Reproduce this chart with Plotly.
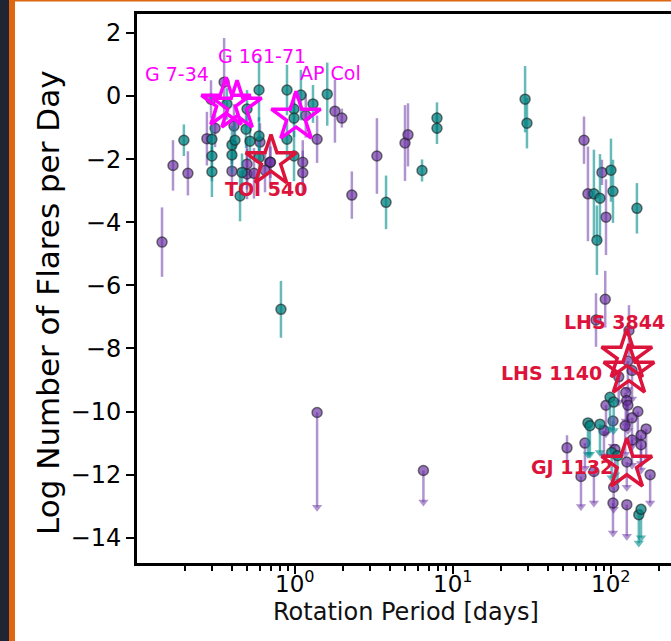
import numpy as np
import plotly.graph_objects as go

# ---------------- data ----------------
# purple detections
P_pur = [0.144, 0.169, 0.210, 0.277, 0.294, 0.312, 0.356, 0.399, 0.411, 0.497, 0.497, 0.550,
         0.600, 0.695, 0.70, 0.646, 1.12, 1.12, 1.17, 1.38, 1.79, 1.98, 2.29, 3.30, 4.97, 5.19,
         67.5, 71.5, 87.7, 93.0, 92.0, 80.4, 130, 52.7]
y_pur = [-4.63, -2.20, -2.45, -1.35, -0.10, -1.02, 0.44, -2.38, -0.95, -2.16, -2.47, -2.45,
         -1.46, -2.10, -2.10, -2.35, -2.10, -2.43, -0.62, -1.37, -0.48, -0.70, -3.14, -1.90, -1.49, -1.23,
         -1.40, -3.10, -2.42, -3.84, -6.44, -7.10, -7.43, -11.15]
e_pur = [1.1, 0.8, 0.7, 0.85, 0.6, 0.6, 1.4, 0.6, 0.7, 0.8, 0.8, 0.8,
         0.6, 0.8, 0.5, 0.7, 0.7, 0.7, 0.7, 0.75, 1.0, 0.3, 0.75, 1.2, 1.2, 1.0,
         0.75, 1.5, 0.4, 1.2, 0.9, 0.85, 0.8, 0.4]

# teal detections
P_teal = [0.198, 0.298, 0.298, 0.298, 0.371, 0.399, 0.399, 0.417, 0.462, 0.449, 0.497, 0.490,
          0.519, 0.592, 0.592, 0.592, 0.890, 0.890, 0.986, 0.986, 0.986, 1.09, 1.30, 1.60, 0.815,
          3.77, 6.37, 7.92, 7.92, 28.6, 29.4, 78.0, 85.2, 100, 103, 81.5, 146]
y_teal = [-1.40, -1.37, -1.90, -2.40, -0.25, -1.55, -1.87, -1.40, -2.42, -3.17, -0.41, -1.05,
          -1.43, 0.19, -1.27, -1.95, 0.19, -1.37, -0.41, -0.70, -1.90, 0.03, -0.25, 0.06, -6.76,
          -3.37, -2.36, -0.70, -1.02, -0.10, -0.86, -3.10, -3.24, -2.35, -3.02, -4.57, -3.56]
e_teal = [0.5, 0.6, 0.8, 0.8, 0.5, 0.6, 0.6, 0.6, 0.6, 0.8, 0.6, 0.6,
          0.6, 1.0, 0.6, 0.7, 0.8, 0.6, 0.5, 0.6, 0.8, 0.8, 0.6, 1.0, 0.9,
          0.85, 0.35, 0.5, 0.5, 1.05, 0.8, 1.4, 1.4, 1.0, 1.0, 1.1, 0.8]

# purple upper limits
P_pur_ul = [1.38, 6.5, 64.6, 78.0, 103, 126, 177, 93.0, 124, 126, 128, 148, 136, 103, 123, 90.3,
            167, 155, 155, 136, 106, 126, 104, 128, 112, 136, 68.4]
y_pur_ul = [-10.03, -11.87, -12.06, -11.90, -12.90, -12.95, -12.00, -9.80, -9.40, -9.65, -9.80,
            -10.00, -10.20, -10.30, -10.45, -10.60, -10.55, -10.75, -11.05, -10.90, -11.20, -11.60,
            -12.40, -8.40, -8.90, -8.70, -11.00]
len_pur_ul = [3.0, 1.0, 0.95, 1.0, 0.95, 1.0, 0.9, 0.9, 0.9, 0.8, 0.8, 0.9, 0.9, 0.8, 0.9, 0.8,
              0.9, 0.9, 0.8, 0.8, 0.8, 0.8, 0.7, 0.9, 0.8, 0.9, 0.8]

# teal upper limits
P_teal_ul = [98.6, 104, 71.5, 73.6, 85.2, 101, 110, 150, 155]
y_teal_ul = [-9.55, -9.70, -10.36, -10.45, -10.40, -11.30, -11.40, -13.27, -13.10]
len_teal_ul = [1.0, 0.9, 1.0, 0.9, 0.9, 0.8, 0.8, 0.9, 0.9]

# highlighted stars
mag_names = ["G 7-34", "G 161-71", "AP Col"]
mag_P = [0.366, 0.43, 1.015]
mag_y = [-0.23, -0.32, -0.67]
red_names = ["TOI 540", "LHS 3844", "LHS 1140", "GJ 1132"]
red_P = [0.705, 126, 130, 126]
red_y = [-2.06, -8.22, -8.70, -11.68]

x_ticks = [1, 10, 100]
x_ticktext = ["10<sup>0</sup>", "10<sup>1</sup>", "10<sup>2</sup>"]
y_ticks = [-14, -12, -10, -8, -6, -4, -2, 0, 2]
y_ticktext = ["\u221214", "\u221212", "\u221210", "\u22128", "\u22126", "\u22124", "\u22122", "0", "2"]

# ---------------- style ----------------
W, H = 671, 641
ML, MR, MT, MB = 137, 0, 14, 78
FONT = "DejaVu Sans"
PUR_FILL = "rgba(100,40,160,0.65)"
PUR_BAR = "rgba(110,60,170,0.55)"
TEAL_FILL = "rgba(0,128,128,0.75)"
TEAL_BAR = "rgba(0,140,140,0.6)"
EDGE = "rgba(30,30,30,0.6)"
MAG = "#ff00ff"
RED = "#dc143c"


def px_x(px):
    return (px - ML) / (W - ML - MR)


def px_y(py):
    return (H - MB - py) / (H - MT - MB)


fig = go.Figure()


def detections(P, y, e, fill, bar):
    fig.add_trace(go.Scatter(
        x=P, y=y, mode="markers",
        error_y=dict(type="data", array=e, color=bar, thickness=2.5, width=0),
        marker=dict(size=10, color=fill, line=dict(color=EDGE, width=1.5)),
        showlegend=False, hoverinfo="skip"))


def uplims(P, y, L, fill, bar):
    ends = [yy - ll for yy, ll in zip(y, L)]
    fig.add_trace(go.Scatter(
        x=P, y=ends, mode="markers",
        marker=dict(symbol="triangle-down", size=9, color=bar, line=dict(width=0)),
        showlegend=False, hoverinfo="skip"))
    fig.add_trace(go.Scatter(
        x=P, y=y, mode="markers",
        error_y=dict(type="data", symmetric=False, array=[0] * len(L), arrayminus=L,
                     color=bar, thickness=2.5, width=0),
        marker=dict(size=10, color=fill, line=dict(color=EDGE, width=1.5)),
        showlegend=False, hoverinfo="skip"))


uplims(P_pur_ul, y_pur_ul, len_pur_ul, PUR_FILL, PUR_BAR)
uplims(P_teal_ul, y_teal_ul, len_teal_ul, TEAL_FILL, TEAL_BAR)
detections(P_pur, y_pur, e_pur, PUR_FILL, PUR_BAR)
detections(P_teal, y_teal, e_teal, TEAL_FILL, TEAL_BAR)

fig.add_trace(go.Scatter(
    x=mag_P, y=mag_y, mode="markers",
    marker=dict(symbol="star-open", size=37, color=MAG, line=dict(color=MAG, width=3.5)),
    showlegend=False, hoverinfo="skip"))
fig.add_trace(go.Scatter(
    x=red_P, y=red_y, mode="markers",
    marker=dict(symbol="star-open", size=38, color=RED, line=dict(color=RED, width=3.5)),
    showlegend=False, hoverinfo="skip"))

annotations = []
mag_off = [(-49, 29), (25, 50), (34, 44)]
red_off = [(-5, -28), (-12, 33), (-77, -2), (-55, -2)]
for n, p, yy, (dx, dy) in zip(mag_names, mag_P, mag_y, mag_off):
    annotations.append(dict(x=np.log10(p), y=yy, xref="x", yref="y", text=n, showarrow=False,
                            xshift=dx, yshift=dy, font=dict(family=FONT, size=19, color=MAG)))
for n, p, yy, (dx, dy) in zip(red_names, red_P, red_y, red_off):
    annotations.append(dict(x=np.log10(p), y=yy, xref="x", yref="y", text="<b>" + n + "</b>",
                            showarrow=False, xshift=dx, yshift=dy,
                            font=dict(family=FONT, size=19, color=RED)))

# x tick labels (drawn as annotations so they sit as close to the axis as in the reference)
for tv, tt in zip(x_ticks, x_ticktext):
    annotations.append(dict(x=np.log10(tv), y=px_y(582), xref="x", yref="paper", text=tt,
                            showarrow=False, xanchor="center", yanchor="middle",
                            font=dict(family=FONT, size=23, color="black")))

annotations.append(dict(x=px_x(48), y=px_y(303), xref="paper", yref="paper",
                        text="Log Number of Flares per Day", textangle=-90, showarrow=False,
                        xanchor="center", yanchor="middle",
                        font=dict(family=FONT, size=31, color="black")))
annotations.append(dict(x=px_x(406), y=px_y(612), xref="paper", yref="paper",
                        text="Rotation Period [days]", showarrow=False,
                        xanchor="center", yanchor="middle",
                        font=dict(family=FONT, size=24, color="#111111")))

shapes = [
    dict(type="rect", xref="paper", yref="paper", x0=px_x(0), x1=px_x(9), y0=px_y(H), y1=px_y(0),
         fillcolor="#1f2533", line=dict(width=0), layer="below"),
    dict(type="rect", xref="paper", yref="paper", x0=px_x(9), x1=px_x(15), y0=px_y(H), y1=px_y(0),
         fillcolor="#e0660f", line=dict(width=0), layer="below"),
    dict(type="rect", xref="paper", yref="paper", x0=px_x(15), x1=px_x(W), y0=px_y(1.5), y1=px_y(0),
         fillcolor="#e0660f", line=dict(width=0), layer="below"),
]

minor_vals = [0.2, 0.3, 0.4, 0.5, 0.6, 0.7, 0.8, 0.9, 2, 3, 4, 5, 6, 7, 8, 9,
              20, 30, 40, 50, 60, 70, 80, 90, 200]

fig.update_layout(
    width=W, height=H,
    margin=dict(l=ML, r=MR, t=MT, b=MB),
    paper_bgcolor="white", plot_bgcolor="white",
    annotations=annotations, shapes=shapes,
    font=dict(family=FONT, color="black"),
    xaxis=dict(type="log", range=[-1.0, 2.38], tickvals=x_ticks, showticklabels=False,
               ticks="outside", ticklen=8, tickwidth=2, tickcolor="black",
               showline=True, linewidth=3, linecolor="black", mirror=True,
               showgrid=False, zeroline=False,
               minor=dict(tickvals=minor_vals, ticks="outside", ticklen=5, tickwidth=1.5,
                          tickcolor="black", showgrid=False)),
    yaxis=dict(range=[-14.8, 2.6], tickvals=y_ticks, ticktext=y_ticktext,
               ticks="outside", ticklen=8, tickwidth=2, tickcolor="black",
               showline=True, linewidth=3, linecolor="black", mirror=False,
               showgrid=False, zeroline=False,
               tickfont=dict(family=FONT, size=24, color="black")),
)

fig.write_html("out.html", config={"displayModeBar": False},
               post_script="document.body.style.margin='0';document.body.style.overflow='hidden';")
